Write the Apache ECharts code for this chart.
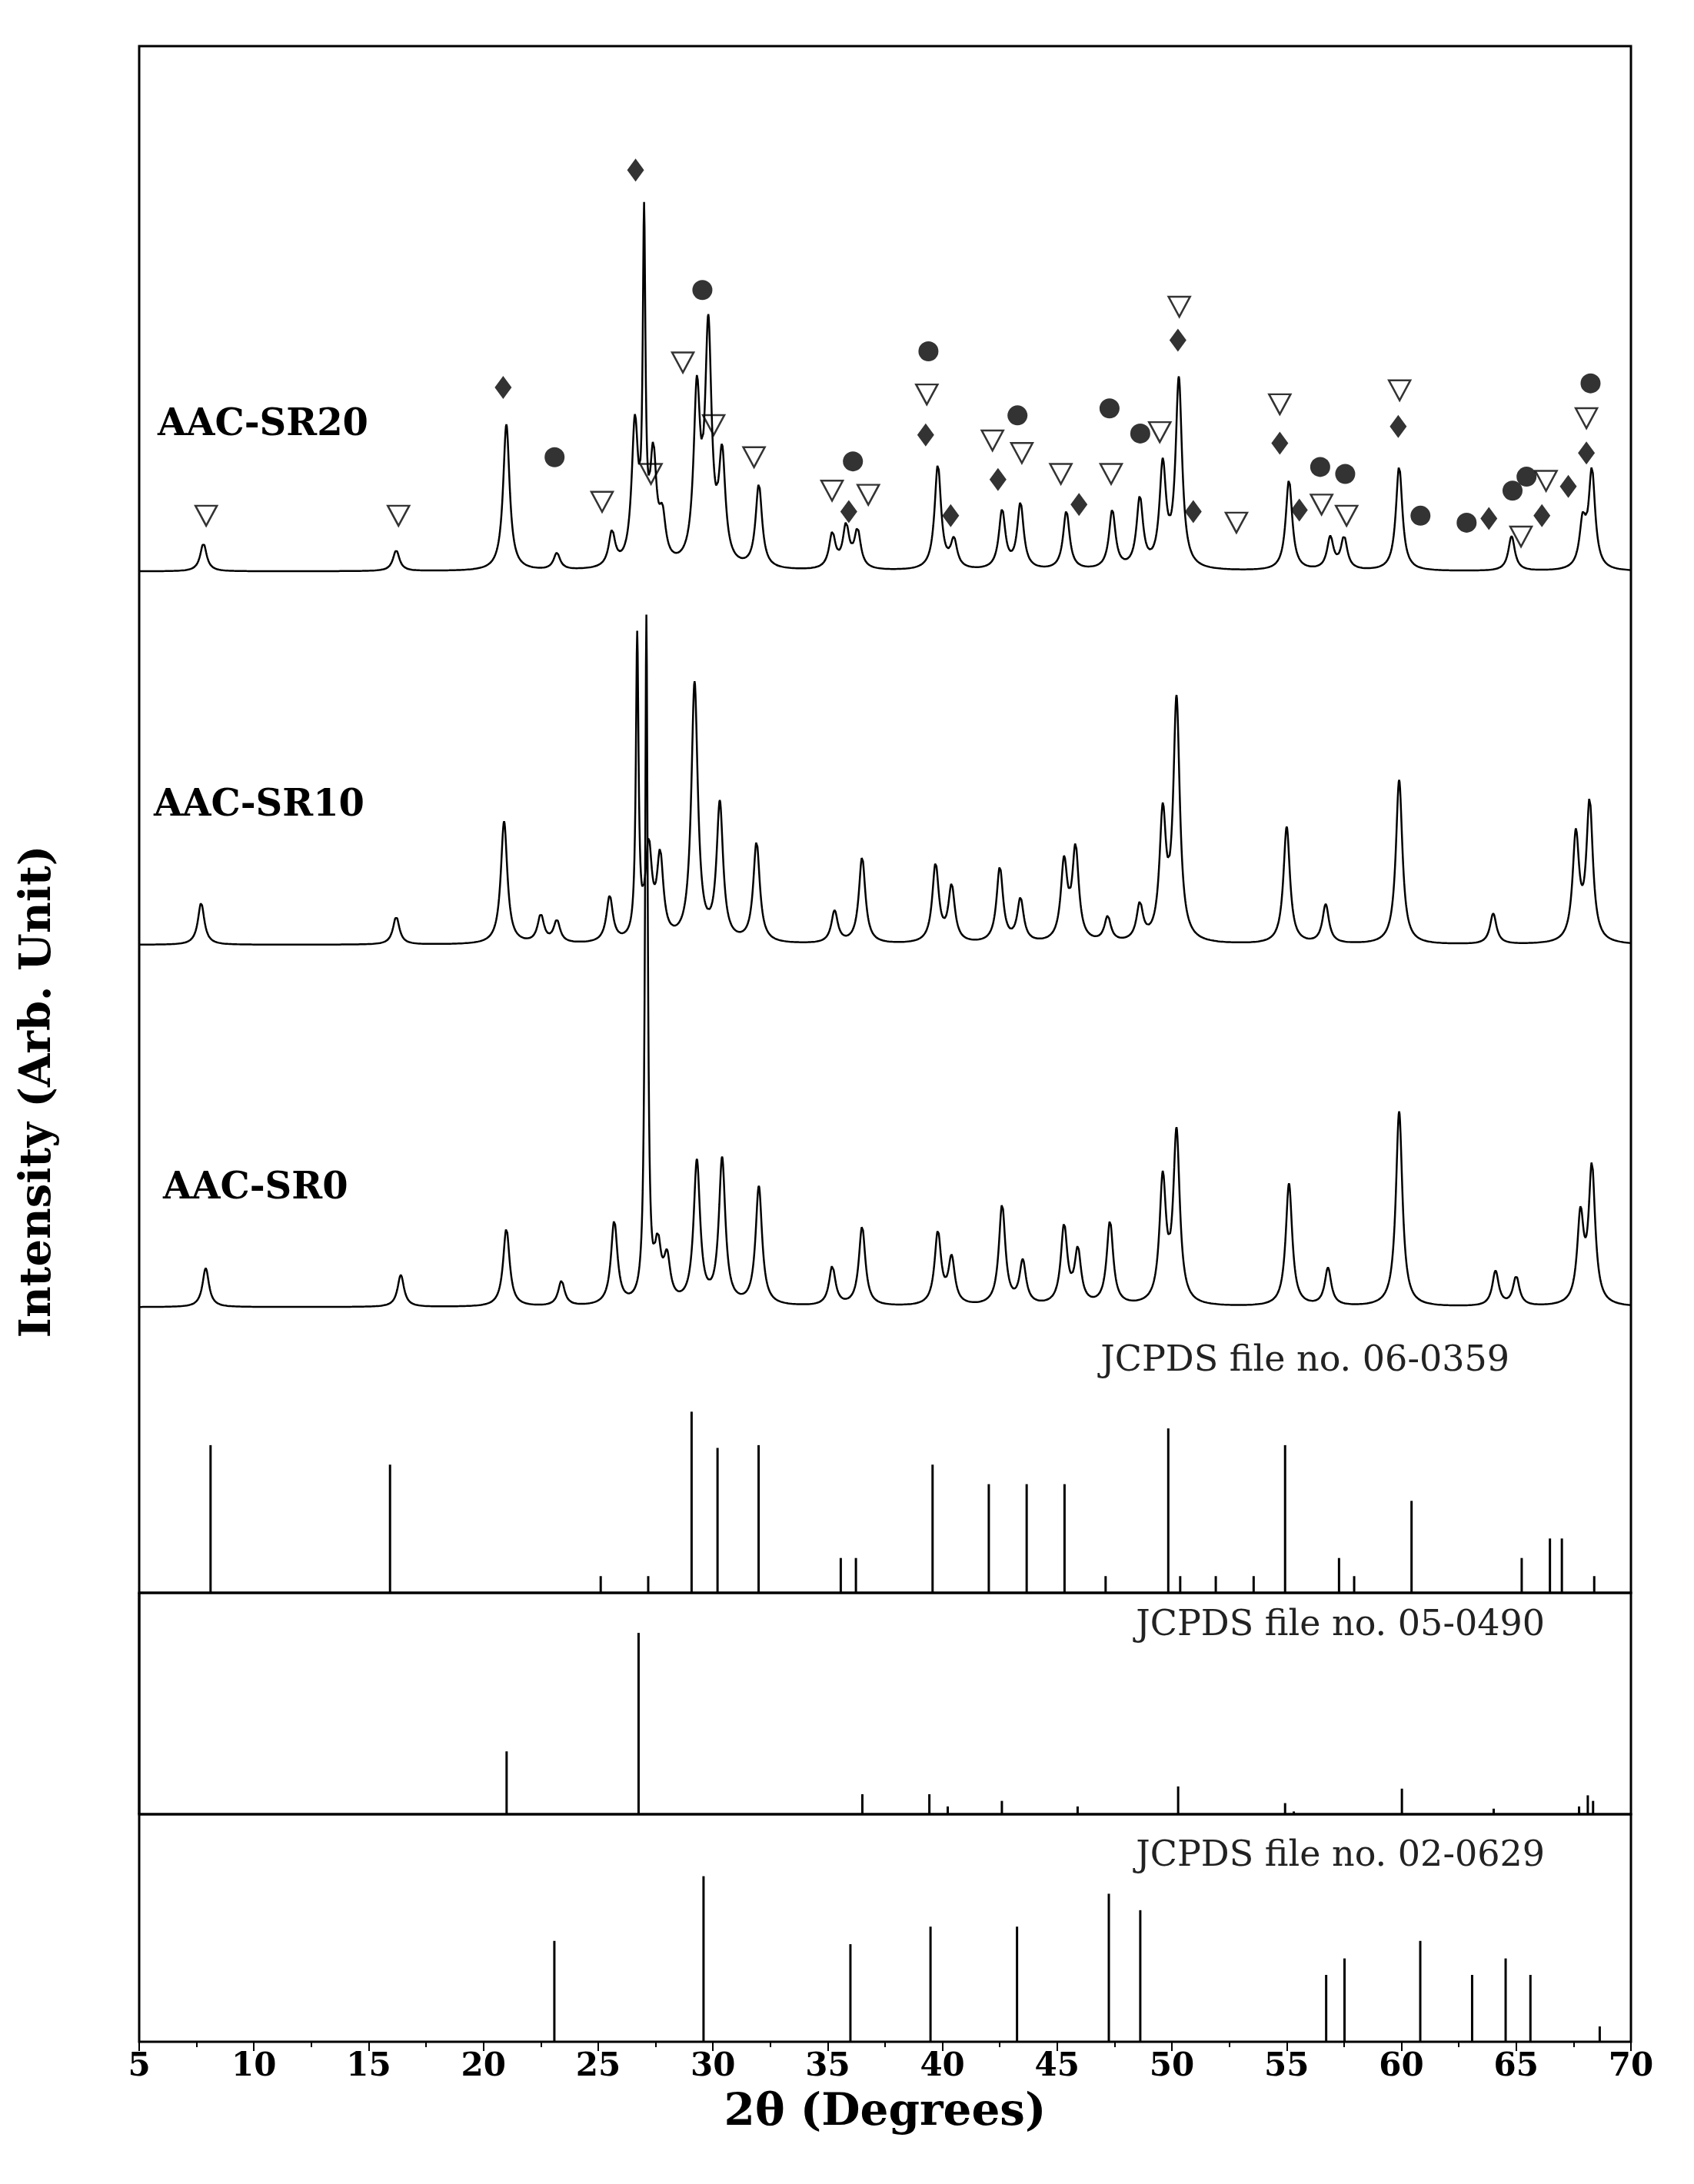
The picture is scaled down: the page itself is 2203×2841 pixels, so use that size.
<!DOCTYPE html>
<html><head><meta charset="utf-8">
<script src="https://cdn.jsdelivr.net/npm/echarts@6/dist/echarts.min.js"></script>
<style>html,body{margin:0;background:#fff}#c{width:2203px;height:2841px}</style>
</head><body><div id="c"></div>
<script>
// peaks: [2theta, height] (main panel units, baseline 0)
let sr20Peaks = [[7.8,20],[16.2,15],[21.0,105],[23.2,12],[25.6,25],[26.6,100],[27.0,235],[27.4,75],[27.8,30],
  [29.3,120],[29.8,165],[30.4,75],[32.0,60],[35.2,25],[35.8,30],[36.3,27],[39.8,75],[40.5,20],[42.6,42],
  [43.4,47],[45.4,42],[47.4,42],[48.6,50],[49.6,72],[50.3,135],[55.1,65],[56.9,23],[57.5,23],[59.9,75],
  [64.8,25],[67.9,32],[68.3,70]];
let sr10Peaks = [[7.7,30],[16.2,20],[20.9,88],[22.5,20],[23.2,16],[25.5,33],[26.7,215],[27.2,65],[27.7,58],
  [29.2,185],[30.3,98],[31.9,72],[35.3,23],[36.5,62],[39.7,56],[40.4,40],[42.5,54],[43.4,31],[45.3,56],
  [45.8,66],[47.2,18],[48.6,26],[49.6,88],[50.2,172],[55.0,84],[56.7,28],[59.9,118],[64.0,22],[67.6,76],[68.2,100]];
let sr0Peaks = [[7.9,28],[16.4,23],[21.0,56],[23.4,18],[25.7,60],[27.1,490],[27.6,38],[28.0,30],[29.3,102],
  [30.4,104],[32.0,85],[35.2,28],[36.5,57],[39.8,52],[40.4,33],[42.6,72],[43.5,31],[45.3,56],[45.9,38],
  [47.3,60],[49.6,88],[50.2,122],[55.1,88],[56.8,27],[59.9,140],[64.1,25],[65.0,21],[67.8,62],[68.3,98]];
let baselines = {sr20: 733, sr10: 465, sr0: 205};

// phase markers over AAC-SR20
let triangles = [[7.92,773],[16.30,773],[25.17,783],[27.30,803],[28.69,883],[30.03,838],[31.79,815],[35.19,791],
  [36.77,788],[39.32,860],[42.18,827],[43.46,818],[45.16,803],[47.35,803],[49.47,833],[50.32,923],[52.81,768],
  [54.70,853],[56.52,781],[57.61,773],[59.92,863],[65.21,758],[66.30,798],[68.06,843]];
let diamonds = [[20.86,865],[26.63,1021],[35.92,776],[39.27,831],[40.36,773],[42.42,799],[45.95,781],[50.26,899],
  [50.93,776],[54.70,825],[55.55,777],[59.86,837],[63.81,771],[66.12,773],[67.27,794],[68.06,818]];
let circles = [[23.10,815],[29.54,935],[36.10,812],[39.39,891],[43.27,845],[47.28,850],[48.62,832],[56.46,808],
  [57.55,803],[60.83,773],[62.84,768],[64.84,791],[65.45,801],[68.24,868]];

// reference sticks
let jcpds0359 = [[8.11,106],[15.93,92],[25.11,12],[27.18,12],[29.07,130],[30.20,104],[31.99,106],[35.57,25],
  [36.23,25],[39.57,92],[42.02,78],[43.67,78],[45.32,78],[47.11,12],[49.84,118],[50.36,12],[51.91,12],[53.56,12],
  [54.93,106],[57.28,25],[57.94,12],[60.44,66],[65.24,25],[66.47,39],[66.99,39],[68.40,12]];
let jcpds0490 = [[5.0,398],[21.01,113],[26.76,326],[36.51,36],[39.43,36],[40.23,14],[42.59,24],[45.89,14],[50.27,50],
  [54.93,20],[55.31,5],[60.02,46],[64.02,10],[67.74,14],[68.12,34],[68.35,24]];
let jcpds0629 = [[23.09,184],[29.59,302],[35.99,178],[39.48,210],[43.25,210],[47.25,270],[48.62,240],[56.72,122],
  [57.52,152],[60.82,184],[63.08,122],[64.54,152],[65.62,122],[68.64,28]];

function profile(peaks, base) {
  let out = [];
  for (let x = 5; x <= 70.0001; x += 0.02) {
    let y = base;
    for (let i = 0; i < peaks.length; i++) {
      let w = peaks[i][1] > 200 ? 0.07 : 0.17;
      let d = (x - peaks[i][0]) / w;
      y += peaks[i][1] / (1 + d * d);
    }
    out.push([+x.toFixed(2), y]);
  }
  return out;
}

let serif = "DejaVu Serif";
function sticks(data, g, base) {
  let s = [];
  if (base) s.push({type: 'bar', xAxisIndex: g, yAxisIndex: g, stack: 's' + g, barWidth: 3,
    data: data.map(d => [d[0], base]), itemStyle: {color: 'transparent'}, silent: true});
  s.push({type: 'bar', xAxisIndex: g, yAxisIndex: g, stack: base ? 's' + g : null, barWidth: 3,
    data: data, itemStyle: {color: '#000'}});
  return s;
}
function xAx(g, show) {
  return {type: 'value', gridIndex: g, min: 5, max: 70, interval: 5,
    axisLine: {show: false}, splitLine: {show: false},
    axisTick: {show: show, inside: false, length: 12, lineStyle: {color: '#000', width: 2}},
    minorTick: {show: show, splitNumber: 2, length: 7, lineStyle: {color: '#000', width: 2}},
    axisLabel: {show: show, fontFamily: serif, fontWeight: 'bold', fontSize: 42, color: '#000', margin: 12},
    name: show ? '2θ (Degrees)' : '', nameLocation: 'middle', nameGap: 64,
    nameTextStyle: {fontFamily: serif, fontWeight: 'bold', fontSize: 58, color: '#000'}};
}
function yAx(g, max, min) {
  return {type: 'value', gridIndex: g, min: min || 0, max: max, show: false};
}

let chart = echarts.init(document.getElementById('c'));
let lineStyle = {color: '#000', width: 2.5};
let curve = (d) => ({type: 'line', xAxisIndex: 0, yAxisIndex: 0, data: d, showSymbol: false,
  lineStyle: lineStyle, animation: false});
let option = {
  animation: false,
  grid: [
    {left: 181, right: 82, top: 60, height: 2012, show: true, borderColor: '#000', borderWidth: 3},
    {left: 181, right: 82, top: 2072, height: 288, show: true, borderColor: '#000', borderWidth: 3},
    {left: 181, right: 82, top: 2360, height: 296, show: true, borderColor: '#000', borderWidth: 3}
  ],
  xAxis: [xAx(0, false), xAx(1, false), xAx(2, true)],
  yAxis: [yAx(0, 1110), yAx(1, 398), yAx(2, 415)],
  series: [
    curve(profile(sr20Peaks, baselines.sr20)),
    curve(profile(sr10Peaks, baselines.sr10)),
    curve(profile(sr0Peaks, baselines.sr0)),
    {type: 'scatter', data: triangles, symbol: 'triangle', symbolRotate: 180, symbolSize: [28, 26],
      itemStyle: {color: '#fff', borderColor: '#000', borderWidth: 2.5}},
    {type: 'scatter', data: diamonds, symbol: 'diamond', symbolSize: [22, 30], itemStyle: {color: '#000'}},
    {type: 'scatter', data: circles, symbol: 'circle', symbolSize: 26, itemStyle: {color: '#000'}}
  ].concat(sticks(jcpds0359, 0, 5), sticks(jcpds0490, 1, 0), sticks(jcpds0629, 2, 0)),
  graphic: [
    {type: 'text', left: 205, top: 530, style: {text: 'AAC-SR20', font: 'bold 48px ' + serif, fill: '#000'}},
    {type: 'text', left: 200, top: 1025, style: {text: 'AAC-SR10', font: 'bold 48px ' + serif, fill: '#000'}},
    {type: 'text', left: 212, top: 1523, style: {text: 'AAC-SR0', font: 'bold 48px ' + serif, fill: '#000'}},
    {type: 'text', right: 240, top: 1748, style: {text: 'JCPDS file no. 06-0359', font: '46px ' + serif, fill: '#222'}},
    {type: 'text', right: 194, top: 2092, style: {text: 'JCPDS file no. 05-0490', font: '46px ' + serif, fill: '#222'}},
    {type: 'text', right: 194, top: 2392, style: {text: 'JCPDS file no. 02-0629', font: '46px ' + serif, fill: '#222'}},
    {type: 'text', x: 50, y: 1420, rotation: Math.PI / 2, style: {text: 'Intensity (Arb. Unit)',
      font: 'bold 56px ' + serif, fill: '#000', align: 'center', verticalAlign: 'middle'}}
  ]
};
chart.setOption(option);
</script></body></html>
